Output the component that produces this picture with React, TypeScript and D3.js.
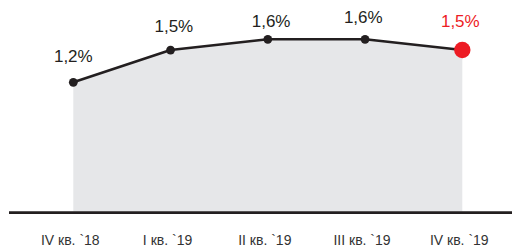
import React from "react";
import * as d3 from "d3";

const categories = ["IV кв. `18", "I кв. `19", "II кв. `19", "III кв. `19", "IV кв. `19"];
const values = [1.2, 1.5, 1.6, 1.6, 1.5];
const valueLabels = ["1,2%", "1,5%", "1,6%", "1,6%", "1,5%"];

// layout tweaks for value labels (hand-placed in the reference)
const labelDx = [0, 3.3, 3.3, -1.8, -2];
const labelDy = [20.8, 17.7, 12, 16, 22.6];

const W = 512;
const H = 247;
const DARK = "#231f20";
const RED = "#ed1c24";

export default function App() {
  const x = d3.scalePoint<string>().domain(categories).range([73.3, 462.3]);
  const y = d3.scaleLinear().domain([0, 1.6]).range([211.5, 39.3]);

  const data = categories.map((c, i) => ({ c, v: values[i], i }));

  const area = d3
    .area<{ c: string; v: number }>()
    .x((d) => x(d.c)!)
    .y0(y(0))
    .y1((d) => y(d.v));
  const line = d3
    .line<{ c: string; v: number }>()
    .x((d) => x(d.c)!)
    .y((d) => y(d.v));

  const last = data.length - 1;

  return (
    <svg
      width={W}
      height={H}
      style={{ position: "absolute", left: 0, top: 0 }}
      fontFamily="'Liberation Sans', Arial, sans-serif"
    >
      <path d={area(data)!} fill="#e6e7e9" />
      <line x1={9} x2={W} y1={212.6} y2={212.6} stroke={DARK} strokeWidth={2.8} />
      <path d={line(data)!} fill="none" stroke={DARK} strokeWidth={2.6} strokeLinejoin="round" />
      {data.map((d) => (
        <circle
          key={"c" + d.i}
          cx={x(d.c)!}
          cy={y(d.v)}
          r={d.i === last ? 8.2 : 4.4}
          fill={d.i === last ? RED : DARK}
        />
      ))}
      {data.map((d) => (
        <text
          key={"t" + d.i}
          x={x(d.c)! + labelDx[d.i]}
          y={y(d.v) - labelDy[d.i]}
          textAnchor="middle"
          fontSize={17}
          fill={d.i === last ? RED : DARK}
        >
          {valueLabels[d.i]}
        </text>
      ))}
      {data.map((d) => (
        <text
          key={"x" + d.i}
          x={x(d.c)! - 3}
          y={244.5}
          textAnchor="middle"
          fontSize={14}
          fill="#333333"
        >
          {d.c}
        </text>
      ))}
    </svg>
  );
}
